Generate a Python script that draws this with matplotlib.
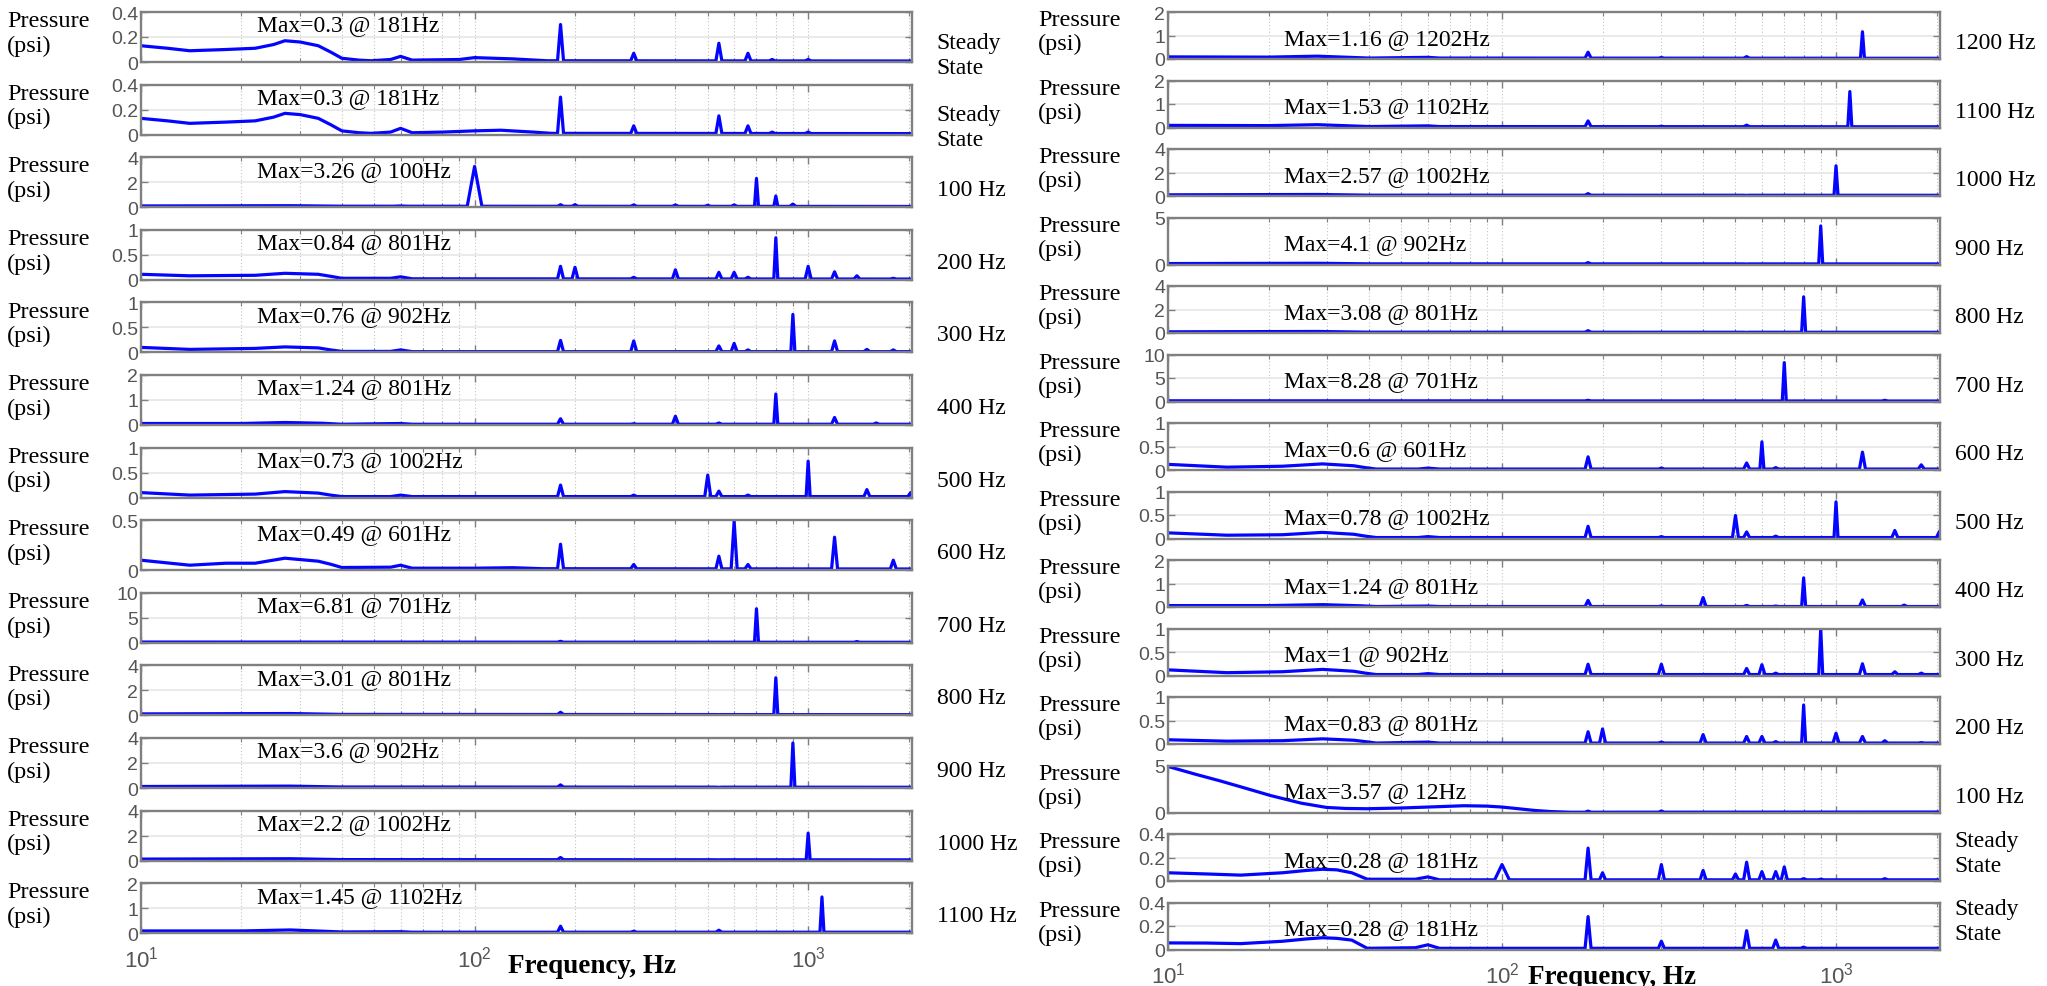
import numpy as np
import matplotlib
matplotlib.use("Agg")
import matplotlib.pyplot as plt
from matplotlib.ticker import LogLocator, NullFormatter, FixedLocator

# ---------------- data ----------------
FMAX = 2048

left_labels = ["Steady\nState", "Steady\nState", "100 Hz", "200 Hz", "300 Hz", "400 Hz", "500 Hz",
               "600 Hz", "700 Hz", "800 Hz", "900 Hz", "1000 Hz", "1100 Hz"]
left_max = ["Max=0.3 @ 181Hz", "Max=0.3 @ 181Hz", "Max=3.26 @ 100Hz", "Max=0.84 @ 801Hz",
            "Max=0.76 @ 902Hz", "Max=1.24 @ 801Hz", "Max=0.73 @ 1002Hz", "Max=0.49 @ 601Hz",
            "Max=6.81 @ 701Hz", "Max=3.01 @ 801Hz", "Max=3.6 @ 902Hz", "Max=2.2 @ 1002Hz",
            "Max=1.45 @ 1102Hz"]
left_ylim = [0.4, 0.4, 4, 1, 1, 2, 1, 0.5, 10, 4, 4, 4, 2]
left_yticks = [[0, 0.2, 0.4], [0, 0.2, 0.4], [0, 2, 4], [0, 0.5, 1], [0, 0.5, 1], [0, 1, 2],
               [0, 0.5, 1], [0, 0.5], [0, 5, 10], [0, 2, 4], [0, 2, 4], [0, 2, 4], [0, 1, 2]]
left_base = [
    [(10, 0.13), (12, 0.11), (14, 0.09), (18, 0.1), (22, 0.11), (25, 0.14), (27, 0.17), (30, 0.16),
     (34, 0.13), (37, 0.08), (40, 0.03), (45, 0.015), (49, 0.01), (56, 0.02), (60, 0.045), (65, 0.015),
     (90, 0.02), (100, 0.035), (130, 0.025), (165, 0.01), (2048, 0.008)],
    [(10, 0.13), (12, 0.11), (14, 0.09), (18, 0.1), (22, 0.11), (25, 0.14), (27, 0.17), (30, 0.16),
     (34, 0.13), (37, 0.08), (40, 0.03), (45, 0.015), (49, 0.01), (56, 0.02), (60, 0.05), (65, 0.015),
     (80, 0.02), (100, 0.03), (120, 0.035), (150, 0.02), (170, 0.01), (2048, 0.008)],
    [(10, 0.1), (28, 0.12), (40, 0.08), (2048, 0.06)],
    [(10, 0.11), (14, 0.08), (22, 0.09), (27, 0.13), (34, 0.11), (37, 0.07), (40, 0.03), (56, 0.03),
     (60, 0.06), (65, 0.02), (2048, 0.015)],
    [(10, 0.1), (14, 0.06), (22, 0.08), (27, 0.11), (34, 0.09), (37, 0.05), (40, 0.02), (56, 0.02),
     (60, 0.05), (65, 0.015), (2048, 0.015)],
    [(10, 0.06), (20, 0.06), (27, 0.1), (35, 0.07), (40, 0.03), (60, 0.06), (65, 0.03), (2048, 0.03)],
    [(10, 0.1), (14, 0.05), (22, 0.07), (27, 0.12), (34, 0.09), (37, 0.05), (40, 0.02), (56, 0.02),
     (60, 0.05), (65, 0.02), (2048, 0.02)],
    [(10, 0.1), (14, 0.05), (18, 0.07), (22, 0.07), (27, 0.12), (34, 0.09), (37, 0.06), (40, 0.027),
     (56, 0.03), (60, 0.05), (65, 0.02), (100, 0.02), (130, 0.025), (160, 0.015), (2048, 0.012)],
    [(10, 0.15), (2048, 0.1)],
    [(10, 0.12), (28, 0.15), (40, 0.08), (2048, 0.06)],
    [(10, 0.12), (28, 0.15), (40, 0.08), (2048, 0.06)],
    [(10, 0.12), (28, 0.15), (40, 0.08), (2048, 0.06)],
    [(10, 0.09), (20, 0.09), (28, 0.13), (40, 0.05), (60, 0.06), (65, 0.04), (2048, 0.04)],
]
left_peaks = [
    [(181, 0.3), (300, 0.07), (540, 0.15), (660, 0.07), (780, 0.02), (1000, 0.02)],
    [(181, 0.3), (300, 0.07), (540, 0.15), (660, 0.07), (780, 0.02), (1000, 0.02)],
    [(60, 0.1), (100, 3.26), (181, 0.2), (200, 0.2), (300, 0.18), (400, 0.18), (500, 0.15), (600, 0.18),
     (700, 2.3), (800, 0.9), (900, 0.25)],
    [(181, 0.27), (200, 0.25), (300, 0.05), (400, 0.2), (540, 0.15), (600, 0.15), (660, 0.05),
     (800, 0.84), (1000, 0.27), (1200, 0.16), (1400, 0.08), (1800, 0.03)],
    [(181, 0.24), (300, 0.23), (540, 0.13), (600, 0.18), (660, 0.05), (900, 0.76), (1200, 0.23),
     (1500, 0.06), (1800, 0.05)],
    [(181, 0.25), (300, 0.05), (400, 0.35), (540, 0.08), (800, 1.24), (1200, 0.3), (1600, 0.08)],
    [(181, 0.25), (300, 0.05), (500, 0.45), (540, 0.13), (660, 0.05), (1000, 0.73), (1500, 0.16),
     (2030, 0.1)],
    [(181, 0.26), (300, 0.057), (540, 0.14), (600, 0.49), (660, 0.057), (1200, 0.33), (1800, 0.1)],
    [(181, 0.3), (700, 6.81), (1400, 0.25)],
    [(181, 0.25), (300, 0.06), (540, 0.06), (800, 3.01)],
    [(181, 0.25), (300, 0.05), (540, 0.05), (900, 3.6)],
    [(181, 0.25), (300, 0.05), (540, 0.06), (1000, 2.2)],
    [(181, 0.28), (300, 0.08), (540, 0.12), (1100, 1.45)],
]

right_labels = ["1200 Hz", "1100 Hz", "1000 Hz", "900 Hz", "800 Hz", "700 Hz", "600 Hz", "500 Hz",
                "400 Hz", "300 Hz", "200 Hz", "100 Hz", "Steady\nState", "Steady\nState"]
right_max = ["Max=1.16 @ 1202Hz", "Max=1.53 @ 1102Hz", "Max=2.57 @ 1002Hz", "Max=4.1 @ 902Hz",
             "Max=3.08 @ 801Hz", "Max=8.28 @ 701Hz", "Max=0.6 @ 601Hz", "Max=0.78 @ 1002Hz",
             "Max=1.24 @ 801Hz", "Max=1 @ 902Hz", "Max=0.83 @ 801Hz", "Max=3.57 @ 12Hz",
             "Max=0.28 @ 181Hz", "Max=0.28 @ 181Hz"]
right_ylim = [2, 2, 4, 5, 4, 10, 1, 1, 2, 1, 1, 5, 0.4, 0.4]
right_yticks = [[0, 1, 2], [0, 1, 2], [0, 2, 4], [0, 5], [0, 2, 4], [0, 5, 10], [0, 0.5, 1],
                [0, 0.5, 1], [0, 1, 2], [0, 0.5, 1], [0, 0.5, 1], [0, 5], [0, 0.2, 0.4], [0, 0.2, 0.4]]
right_base = [
    [(10, 0.09), (20, 0.08), (28, 0.12), (40, 0.04), (60, 0.07), (65, 0.04), (2048, 0.03)],
    [(10, 0.09), (20, 0.08), (28, 0.12), (40, 0.04), (60, 0.07), (65, 0.04), (2048, 0.03)],
    [(10, 0.1), (28, 0.13), (40, 0.07), (2048, 0.06)],
    [(10, 0.1), (28, 0.13), (40, 0.07), (2048, 0.06)],
    [(10, 0.1), (28, 0.13), (40, 0.07), (2048, 0.06)],
    [(10, 0.15), (2048, 0.1)],
    [(10, 0.12), (15, 0.06), (22, 0.08), (29, 0.13), (36, 0.09), (39, 0.05), (42, 0.02), (56, 0.02),
     (60, 0.04), (65, 0.02), (2048, 0.02)],
    [(10, 0.12), (15, 0.07), (22, 0.08), (29, 0.13), (36, 0.09), (39, 0.05), (42, 0.02), (56, 0.02),
     (60, 0.04), (65, 0.02), (2048, 0.02)],
    [(10, 0.06), (20, 0.06), (29, 0.1), (38, 0.05), (42, 0.02), (60, 0.04), (65, 0.02), (2048, 0.02)],
    [(10, 0.12), (15, 0.06), (22, 0.08), (29, 0.13), (36, 0.09), (39, 0.05), (42, 0.02), (56, 0.02),
     (60, 0.04), (65, 0.02), (2048, 0.02)],
    [(10, 0.09), (15, 0.06), (22, 0.07), (29, 0.11), (36, 0.08), (39, 0.05), (42, 0.02), (60, 0.04),
     (65, 0.02), (2048, 0.02)],
    [(10, 4.9), (12, 4.1), (14.3, 3.37), (17, 2.6), (20.3, 1.8), (25, 1.0), (29.8, 0.54), (34, 0.43),
     (39.5, 0.4), (50, 0.48), (60, 0.58), (77, 0.72), (90, 0.68), (100, 0.58), (112, 0.4), (125, 0.22),
     (140, 0.1), (160, 0.03), (2048, 0.05)],
    [(10, 0.07), (13, 0.06), (16.5, 0.05), (22, 0.07), (26, 0.09), (29, 0.1), (32, 0.095), (35.5, 0.07),
     (39.5, 0.015), (55, 0.015), (60, 0.035), (65, 0.01), (2048, 0.01)],
    [(10, 0.056), (13, 0.055), (16.5, 0.05), (22, 0.07), (26, 0.09), (29, 0.1), (32, 0.095),
     (35.5, 0.08), (39.5, 0.01), (55, 0.015), (60, 0.04), (65, 0.01), (2048, 0.01)],
]
right_peaks = [
    [(181, 0.29), (300, 0.06), (540, 0.1), (1200, 1.16)],
    [(181, 0.28), (300, 0.05), (540, 0.1), (1100, 1.53)],
    [(181, 0.2), (300, 0.05), (540, 0.05), (1000, 2.57)],
    [(181, 0.2), (540, 0.05), (900, 4.1)],
    [(181, 0.2), (540, 0.05), (800, 3.08)],
    [(181, 0.25), (700, 8.28), (1400, 0.25)],
    [(181, 0.28), (300, 0.04), (540, 0.15), (600, 0.6), (660, 0.05), (1200, 0.38), (1800, 0.11)],
    [(181, 0.26), (300, 0.04), (500, 0.49), (540, 0.14), (660, 0.05), (1000, 0.78), (1500, 0.17),
     (2040, 0.15)],
    [(181, 0.28), (300, 0.04), (400, 0.4), (540, 0.07), (660, 0.04), (800, 1.24), (1200, 0.3),
     (1600, 0.08)],
    [(181, 0.24), (300, 0.24), (540, 0.15), (600, 0.23), (660, 0.05), (900, 1.0), (1200, 0.25),
     (1500, 0.08), (1800, 0.05)],
    [(181, 0.26), (200, 0.32), (300, 0.04), (400, 0.2), (540, 0.16), (600, 0.16), (660, 0.05),
     (800, 0.83), (1000, 0.23), (1200, 0.16), (1400, 0.07), (1800, 0.03)],
    [(181, 0.15), (300, 0.15)],
    [(100, 0.14), (181, 0.28), (200, 0.07), (300, 0.14), (400, 0.09), (500, 0.06), (540, 0.16),
     (600, 0.08), (660, 0.08), (700, 0.12), (800, 0.02), (900, 0.015), (1400, 0.02)],
    [(181, 0.28), (300, 0.07), (540, 0.16), (660, 0.08), (800, 0.02)],
]

# ---------------- style ----------------
SERIF = "Liberation Serif"
SANS = "Liberation Sans"
LINE_C = "#0505ff"
SPINE_C = "#808080"
TICK_C = "#555555"

W, H = 2047, 987
fig = plt.figure(figsize=(W / 100, H / 100), dpi=100)


def build_line(base, peaks):
    bf = np.log10([p[0] for p in base])
    bv = np.array([p[1] for p in base])
    pts = list(zip(bf, bv))
    for f, h in peaks:
        lf = np.log10(f)
        hw = 0.022 if f <= 120 else (0.009 if h < 0.5 else 0.006)
        for x in (lf - hw, lf + hw):
            pts.append((x, float(np.interp(x, bf, bv))))
        pts.append((lf, h))
    pts.sort(key=lambda p: p[0])
    xs = 10 ** np.array([p[0] for p in pts])
    ys = np.array([p[1] for p in pts])
    return xs, ys


def make_col(x0, x1, top0, step, h, labels, maxes, ylims, yticks, bases, peaks,
             ss_label_y, max_y, lab_x, ylab_px):
    n = len(labels)
    for i in range(n):
        top = top0 + i * step
        ax = fig.add_axes([x0 / W, 1 - (top + h) / H, (x1 - x0) / W, h / H])
        xs, ys = build_line(bases[i], peaks[i])
        ax.plot(xs, ys, color=LINE_C, lw=2.3, solid_joinstyle="round")
        ax.set_xscale("log")
        ax.set_xlim(10, FMAX)
        ax.set_ylim(0, ylims[i])
        ax.set_yticks(yticks[i])
        ax.set_yticklabels([("%g" % t) for t in yticks[i]])
        ax.xaxis.set_major_locator(FixedLocator([10, 100, 1000]))
        ax.xaxis.set_minor_locator(LogLocator(base=10, subs=np.arange(2, 10), numticks=20))
        ax.xaxis.set_minor_formatter(NullFormatter())
        ax.tick_params(axis="both", which="both", direction="in", top=True, right=True,
                       color=SPINE_C, labelcolor=TICK_C)
        ax.tick_params(axis="both", which="major", length=5, width=1.0, labelsize=14, pad=2)
        ax.tick_params(axis="x", which="minor", length=3, width=0.8)
        for lab in ax.get_yticklabels() + ax.get_xticklabels():
            lab.set_fontfamily(SANS)
        for sp in ax.spines.values():
            sp.set_color(SPINE_C)
            sp.set_linewidth(1.7)
        ax.grid(True, which="both", axis="x", ls=(0, (1, 2)), color="#c4c4c4", lw=0.8)
        ax.grid(True, which="major", axis="y", ls="-", color="#e6e6e6", lw=1.2)
        ax.set_axisbelow(True)
        if i < n - 1:
            ax.set_xticklabels([])
        else:
            ax.set_xticklabels(["$\\mathregular{10^{1}}$", "$\\mathregular{10^{2}}$",
                                "$\\mathregular{10^{3}}$"])
            ax.tick_params(axis="x", which="major", labelsize=16, pad=9)
        ax.text(0.15, max_y, maxes[i], transform=ax.transAxes, fontsize=17,
                family=SERIF, va="center", ha="left")
        ly = ss_label_y if "\n" in labels[i] else 0.35
        ax.text(lab_x, ly, labels[i], transform=ax.transAxes, fontsize=17,
                family=SERIF, va="center", ha="left", linespacing=1.25)
        fig.text(ylab_px / W, 1 - (top + h * 0.42) / H, "Pressure\n(psi)", fontsize=17.5,
                 family=SERIF, va="center", ha="left", linespacing=1.2)


make_col(141, 912, 13, 72.6, 50, left_labels, left_max, left_ylim, left_yticks,
         left_base, left_peaks, ss_label_y=0.15, max_y=0.74, lab_x=1.032, ylab_px=7)
make_col(1168, 1940, 13, 68.5, 47, right_labels, right_max, right_ylim, right_yticks,
         right_base, right_peaks, ss_label_y=0.6, max_y=0.44, lab_x=1.019, ylab_px=1038)

fig.text(592 / W, 1 - 967 / H, "Frequency, Hz", fontsize=19.5, family=SERIF, weight="bold",
         ha="center", va="center")
fig.text(1612 / W, 1 - 978 / H, "Frequency, Hz", fontsize=19.5, family=SERIF, weight="bold",
         ha="center", va="center")

fig.savefig("out.png", dpi=100)
